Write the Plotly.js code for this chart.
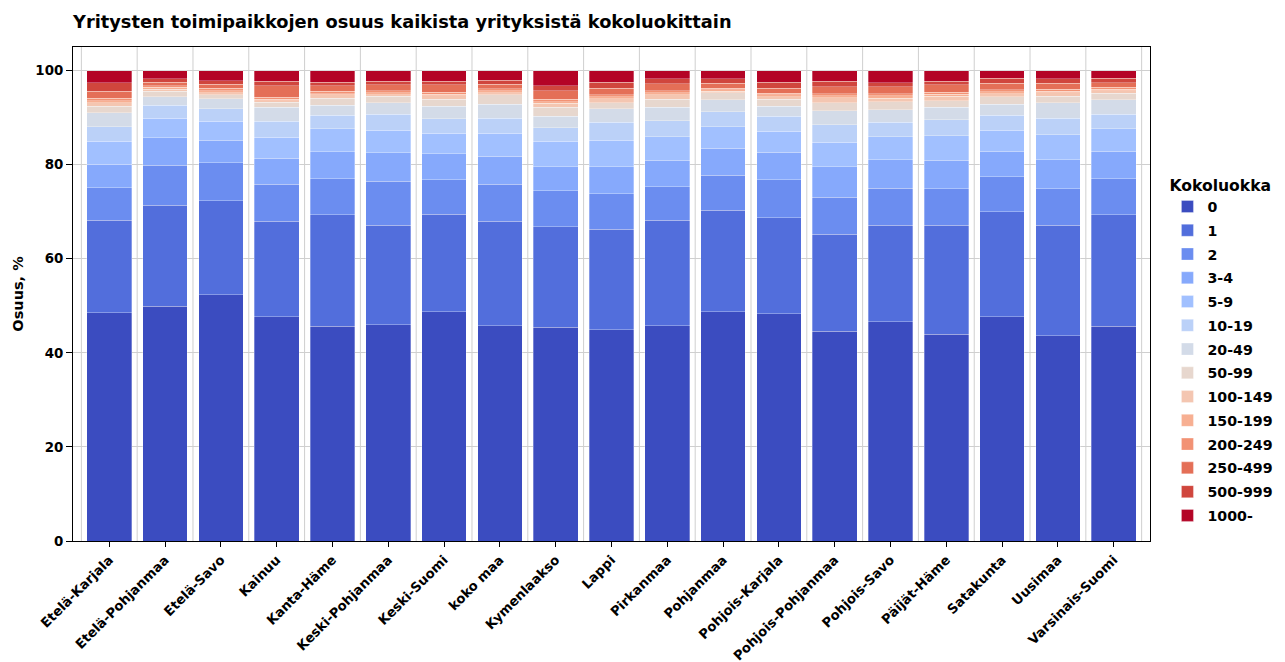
<!DOCTYPE html>
<html>
<head>
<meta charset="utf-8">
<script src="https://cdn.plot.ly/plotly-3.0.1.min.js"></script>
<style>html,body{margin:0;padding:0;background:#fff;}#chart{width:1285px;height:662px;}</style>
</head>
<body>
<div id="chart"></div>
<script>
const regions = ["Etelä-Karjala","Etelä-Pohjanmaa","Etelä-Savo","Kainuu","Kanta-Häme","Keski-Pohjanmaa","Keski-Suomi","koko maa","Kymenlaakso","Lappi","Pirkanmaa","Pohjanmaa","Pohjois-Karjala","Pohjois-Pohjanmaa","Pohjois-Savo","Päijät-Häme","Satakunta","Uusimaa","Varsinais-Suomi"];

const sizeClasses = ["0","1","2","3-4","5-9","10-19","20-49","50-99","100-149","150-199","200-249","250-499","500-999","1000-"];

const s0      = [48.5,49.9,52.3,47.7,45.6,46.0,48.7,45.8,45.4,44.9,45.8,48.7,48.3,44.6,46.6,43.9,47.7,43.6,45.6];
const s1      = [19.7,21.5,20.0,20.3,23.7,21.1,20.7,22.2,21.4,21.4,22.4,21.6,20.4,20.6,20.5,23.2,22.3,23.5,23.7];
const s2      = [6.9,8.5,8.1,7.8,7.7,9.4,7.4,7.8,7.6,7.5,7.1,7.45,8.1,7.9,7.9,7.75,7.4,7.75,7.7];
const s3_4    = [5.0,5.8,4.8,5.6,5.7,6.0,5.5,6.0,5.2,5.8,5.6,5.75,5.8,6.5,6.0,6.05,5.4,6.15,5.8];
const s5_9    = [4.9,4.2,4.0,4.4,4.9,4.8,4.35,4.85,5.35,5.6,5.0,4.6,4.5,5.15,4.9,5.2,4.5,5.4,4.8];
const s10_19  = [3.0,2.75,2.7,3.4,2.9,3.4,3.15,3.25,2.85,3.8,3.4,3.1,3.15,3.75,3.1,3.4,3.2,3.5,3.1];
const s20_49  = [3.0,1.75,2.1,3.0,2.1,2.45,2.6,2.95,2.45,2.9,2.9,2.6,2.15,2.95,2.7,2.7,2.35,3.25,3.1];
const s50_99  = [1.4,1.15,0.85,1.1,1.5,1.35,1.5,2.0,1.95,1.3,1.7,1.45,1.45,1.7,1.65,1.4,1.55,1.4,1.4];
const s100_149= [0.75,0.45,0.45,0.3,0.7,0.4,0.7,0.45,0.8,0.8,0.95,0.35,0.55,1.05,0.75,0.9,0.7,0.75,0.5];
const s150_199= [0.45,0.4,0.4,0.3,0.3,0.4,0.4,0.4,0.4,0.4,0.45,0.3,0.4,0.4,0.5,0.5,0.4,0.3,0.3];
const s200_249= [0.5,0.4,0.55,0.4,0.45,0.4,0.4,0.4,0.5,0.45,0.4,0.35,0.4,0.45,0.45,0.4,0.4,0.4,0.4];
const s250_499= [1.45,0.7,0.85,2.45,1.25,1.3,1.6,1.0,1.85,1.4,1.5,1.05,1.05,1.45,1.45,1.6,1.35,1.25,1.05];
const s500_999= [1.9,0.7,0.7,0.95,0.7,0.7,0.7,0.8,1.0,1.25,1.0,0.9,1.25,1.2,0.95,0.7,1.15,0.95,0.95];
const s1000   = [2.55,1.8,2.2,2.3,2.5,2.3,2.3,2.1,3.25,2.5,1.8,1.8,2.5,2.3,2.55,2.3,1.6,1.8,1.6];

const seriesValues = [s0,s1,s2,s3_4,s5_9,s10_19,s20_49,s50_99,s100_149,s150_199,s200_249,s250_499,s500_999,s1000];

const colors = ["#3b4cc0","#526edc","#6b8df0","#86a9fc","#a1c0ff","#bbd1f8","#d3dbe8","#e7d7ce","#f4c6b1","#f7af92","#f29274","#e46f57","#d0463d","#b40426"];

const FONT = "DejaVu Sans, sans-serif";

const traces = sizeClasses.map((name, i) => ({
  type: "bar",
  name: name,
  x: regions,
  y: seriesValues[i],
  legendgroup: "g" + i,
  marker: {color: colors[i], line: {color: "rgba(255,255,255,0.6)", width: 0.5}},
  hovertemplate: "%{x}<br>" + name + ": %{y:.1f} %<extra></extra>"
}));

// vertical gridlines between bars
const shapes = [];
for (let i = -1; i < regions.length; i++) {
  shapes.push({type: "line", xref: "x", yref: "paper", x0: i + 0.5, x1: i + 0.5, y0: 0, y1: 1,
    line: {color: "#cfcfcf", width: 1}, layer: "below"});
}

const layout = {
  width: 1285, height: 662,
  margin: {l: 73, r: 135, t: 47, b: 121, pad: 0, autoexpand: false},
  paper_bgcolor: "#ffffff", plot_bgcolor: "#ffffff",
  barmode: "stack",
  bargap: 0.2,
  font: {family: FONT, size: 13.4, color: "#000", weight: "bold"},
  title: {text: "Yritysten toimipaikkojen osuus kaikista yrityksistä kokoluokittain",
    x: 73/1285, xanchor: "left", xref: "container", y: 1 - 22/662, yanchor: "middle", yref: "container",
    font: {family: FONT, size: 17.8, color: "#000", weight: "bold"}},
  xaxis: {
    type: "category", range: [-0.65, regions.length - 0.35],
    tickangle: -45, ticks: "outside", ticklen: 5, tickcolor: "#000",
    showgrid: false, showline: true, linecolor: "#000", linewidth: 1, mirror: true,
    tickfont: {family: FONT, size: 13.2, color: "#000", weight: "bold"}, automargin: false
  },
  yaxis: {
    range: [0, 105], tickvals: [0,20,40,60,80,100], ticks: "outside", ticklen: 6, tickcolor: "#000",
    showgrid: true, gridcolor: "#cfcfcf", gridwidth: 1, zeroline: false,
    showline: true, linecolor: "#000", linewidth: 1, mirror: true,
    tickfont: {family: FONT, size: 13.4, color: "#000", weight: "bold"},
    title: {text: "Osuus, %", font: {family: FONT, size: 14.5, color: "#000", weight: "bold"}, standoff: 8},
    automargin: false
  },
  legend: {
    x: 1.0162, xanchor: "left", y: 0.75, yanchor: "top",
    traceorder: "grouped", tracegroupgap: 2.3,
    title: {text: "Kokoluokka", font: {family: FONT, size: 15.6, color: "#000", weight: "bold"}, side: "top"},
    font: {family: FONT, size: 14.2, color: "#000", weight: "bold"},
    bgcolor: "rgba(255,255,255,0)", borderwidth: 0, itemwidth: 30
  },
  shapes: shapes
};

Plotly.newPlot("chart", traces, layout, {displayModeBar: false, staticPlot: true});
</script>
</body>
</html>
